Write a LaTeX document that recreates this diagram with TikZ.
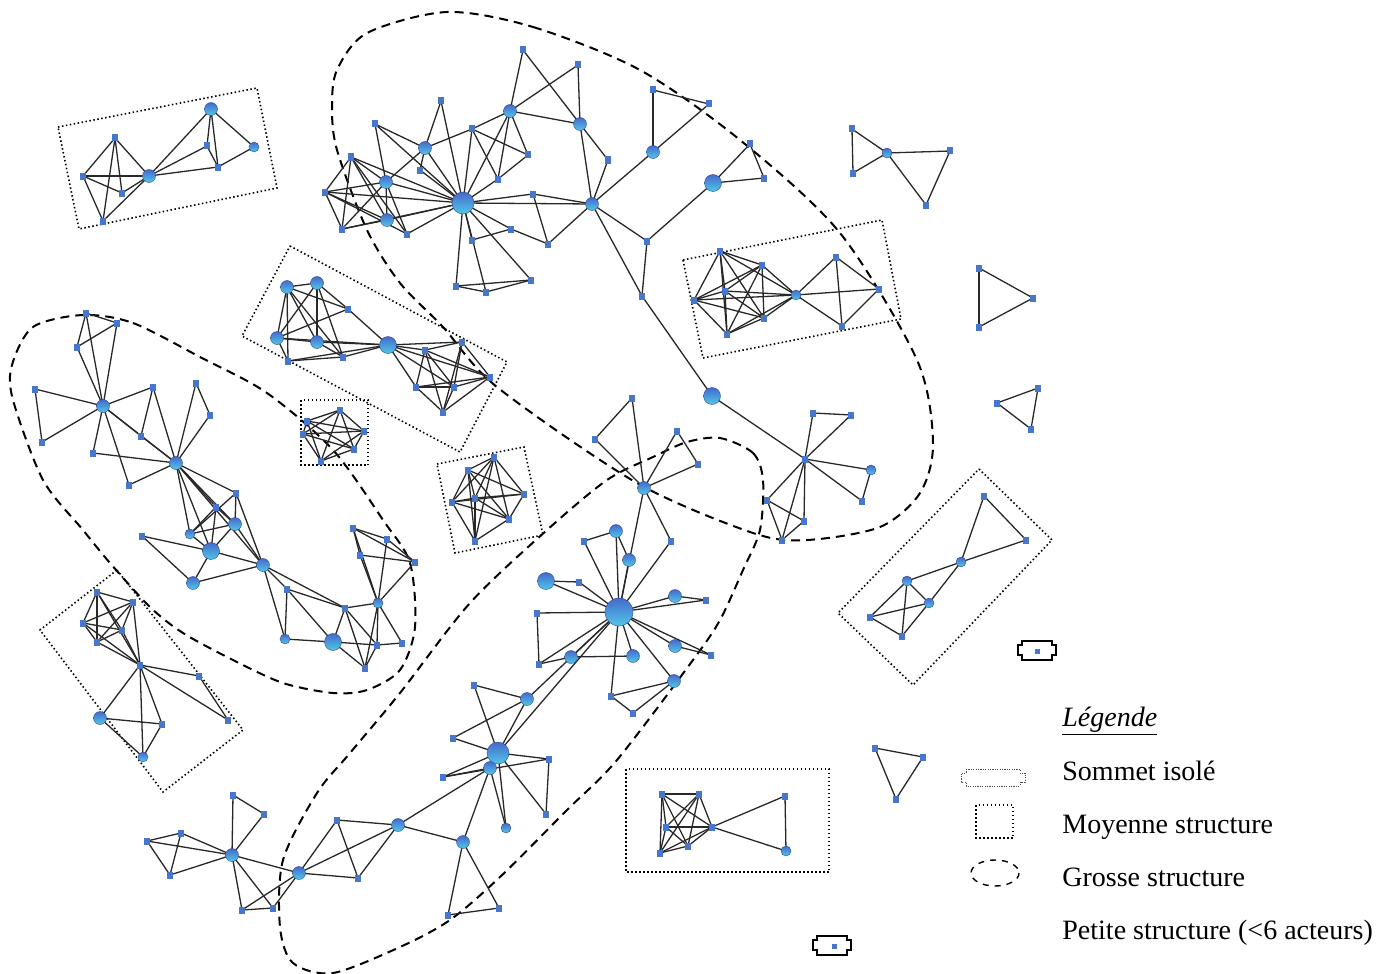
\documentclass[tikz,border=0pt]{standalone}
\usepackage{fontspec}
\setmainfont{Liberation Serif}
\pgfdeclarelayer{edgelayer}
\pgfsetlayers{edgelayer,main}
\definecolor{nodeblue}{RGB}{72,118,205}
\definecolor{balltop}{RGB}{70,105,205}
\definecolor{ballmid}{RGB}{75,130,220}
\definecolor{ballbot}{RGB}{80,200,230}
\definecolor{edgegray}{RGB}{40,40,40}
\begin{document}
\begin{tikzpicture}[x=0.5pt,y=-0.5pt,
 sn/.style={rectangle,fill=nodeblue,minimum width=3pt,minimum height=3.5pt,inner sep=0pt},
 mn/.style={circle,inner sep=0pt,minimum size=6.5pt,top color=balltop,middle color=ballmid,bottom color=ballbot,draw=balltop!70!black,line width=0.2pt},
 ms/.style={mn,minimum size=5pt},
 ln/.style={mn,minimum size=8.5pt},
 bn/.style={mn,minimum size=11pt},
 hn/.style={mn,minimum size=14pt},
 edge/.style={draw=edgegray,line width=0.65pt},
 grosse/.style={draw=black,line width=1pt,dash pattern=on 4.5pt off 3pt},
 moyenne/.style={draw=black,line width=0.8pt,dash pattern=on 0.75pt off 1.25pt},
 legtext/.style={anchor=base west,inner sep=0pt,font=\fontsize{14}{16}\selectfont},
 isoframe/.pic={\draw[line width=1pt] (-15,-9.5) -- (15,-9.5) -- (15,-5) -- (19,-5) -- (19,5) -- (15,5) -- (15,9.5) -- (-15,9.5) -- (-15,5) -- (-19,5) -- (-19,-5) -- (-15,-5) -- cycle;}
]
\useasboundingbox (0,0) rectangle (1392,974);
% ---------- A
\node[sn] (a1) at (115,138) {};
\node[sn] (a2) at (83,176) {};
\node[sn] (a3) at (122,193) {};
\node[sn] (a4) at (103,221) {};
\node[mn] (a5) at (149,176) {};
\node[mn] (a6) at (211,109) {};
\node[sn] (a7) at (207,146) {};
\node[sn] (a8) at (218,167) {};
\node[ms] (a9) at (254,147) {};
% ---------- B
\node[bn] (b1) at (463,203) {};
\node[sn] (b2) at (351,157) {};
\node[sn] (b3) at (325,192) {};
\node[sn] (b4) at (342,229) {};
\node[mn] (b5) at (386,182) {};
\node[mn] (b6) at (387,220) {};
\node[sn] (b7) at (407,234) {};
\node[sn] (b8) at (375,124) {};
\node[mn] (b9) at (425,148) {};
\node[sn] (b10) at (441,101) {};
\node[sn] (b11) at (420,170) {};
\node[sn] (b12) at (472,129) {};
\node[mn] (b13) at (510,111) {};
\node[sn] (b14) at (523,50) {};
\node[sn] (b15) at (578,65) {};
\node[mn] (b16) at (580,124) {};
\node[sn] (b17) at (528,155) {};
\node[sn] (b18) at (498,179) {};
\node[sn] (b19) at (608,160) {};
\node[mn] (b20) at (592,204) {};
\node[sn] (b21) at (533,194) {};
\node[sn] (b22) at (548,244) {};
\node[sn] (b23) at (511,229) {};
\node[sn] (b24) at (472,240) {};
\node[sn] (b25) at (456,286) {};
\node[sn] (b26) at (486,292) {};
\node[sn] (b27) at (531,280) {};
\node[mn] (b28) at (653,152) {};
\node[sn] (b29) at (653,90) {};
\node[sn] (b30) at (709,104) {};
\node[ln] (b31) at (713,183) {};
\node[sn] (b32) at (750,144) {};
\node[sn] (b33) at (764,178) {};
\node[sn] (b34) at (647,241) {};
\node[sn] (b35) at (642,296) {};
\node[ln] (b36) at (712,396) {};
% ---------- C
\node[sn] (c1) at (86,313) {};
\node[sn] (c2) at (117,323) {};
\node[sn] (c3) at (77,347) {};
\node[mn] (c4) at (103,406) {};
\node[sn] (c5) at (35,389) {};
\node[sn] (c6) at (42,442) {};
\node[sn] (c7) at (153,387) {};
\node[sn] (c8) at (141,436) {};
\node[sn] (c9) at (93,453) {};
\node[sn] (c10) at (129,485) {};
\node[mn] (c11) at (176,463) {};
\node[sn] (c12) at (196,383) {};
\node[sn] (c13) at (210,415) {};
\node[sn] (c14) at (236,493) {};
\node[sn] (c15) at (216,507) {};
\node[mn] (c16) at (235,524) {};
\node[ms] (c17) at (190,534) {};
\node[ln] (c18) at (211,551) {};
\node[sn] (c19) at (142,536) {};
\node[mn] (c20) at (193,583) {};
\node[mn] (c21) at (263,565) {};
\node[sn] (c22) at (287,589) {};
\node[sn] (c23) at (353,528) {};
\node[sn] (c24) at (387,539) {};
\node[sn] (c25) at (360,555) {};
\node[sn] (c26) at (415,562) {};
\node[ms] (c27) at (378,603) {};
\node[sn] (c28) at (345,608) {};
\node[ms] (c30) at (285,639) {};
\node[ln] (c31) at (333,642) {};
\node[sn] (c32) at (377,645) {};
\node[sn] (c33) at (402,643) {};
\node[sn] (c34) at (365,668) {};
% ---------- D
\node[mn] (d1) at (287,287) {};
\node[mn] (d2) at (317,283) {};
\node[sn] (d3) at (348,309) {};
\node[mn] (d4) at (277,338) {};
\node[mn] (d5) at (317,342) {};
\node[sn] (d6) at (288,361) {};
\node[sn] (d7) at (343,357) {};
\node[ln] (d8) at (388,345) {};
\node[sn] (d9) at (425,350) {};
\node[sn] (d10) at (462,342) {};
\node[sn] (d11) at (416,387) {};
\node[sn] (d12) at (454,387) {};
\node[sn] (d13) at (443,412) {};
\node[sn] (d14) at (490,377) {};
% ---------- E
\node[sn] (e1) at (340,410) {};
\node[sn] (e2) at (307,421) {};
\node[sn] (e3) at (364,431) {};
\node[sn] (e4) at (303,434) {};
\node[sn] (e5) at (354,449) {};
\node[sn] (e6) at (321,461) {};
% ---------- F
\node[sn] (f1) at (494,457) {};
\node[sn] (f2) at (468,470) {};
\node[sn] (f3) at (524,494) {};
\node[sn] (f4) at (475,498) {};
\node[sn] (f5) at (452,502) {};
\node[sn] (f6) at (509,519) {};
\node[sn] (f7) at (475,541) {};
% ---------- G
\node[mn] (g1) at (644,488) {};
\node[sn] (g2) at (632,398) {};
\node[sn] (g3) at (595,439) {};
\node[sn] (g4) at (677,431) {};
\node[sn] (g5) at (698,464) {};
\node[sn] (g6) at (671,541) {};
\node[mn] (g7) at (616,531) {};
\node[sn] (g8) at (584,541) {};
\node[mn] (g9) at (629,560) {};
\node[ln] (g10) at (546,581) {};
\node[sn] (g11) at (579,582) {};
\node[hn] (g12) at (619,612) {};
\node[mn] (g13) at (675,596) {};
\node[sn] (g14) at (706,600) {};
\node[sn] (g15) at (537,613) {};
\node[sn] (g16) at (539,664) {};
\node[mn] (g17) at (571,657) {};
\node[mn] (g18) at (633,656) {};
\node[mn] (g19) at (675,646) {};
\node[sn] (g20) at (711,655) {};
\node[mn] (g21) at (674,681) {};
\node[sn] (g22) at (611,696) {};
\node[sn] (g23) at (474,685) {};
\node[mn] (g24) at (527,699) {};
\node[sn] (g25) at (453,738) {};
\node[bn] (g26) at (498,753) {};
\node[mn] (g27) at (490,768) {};
\node[sn] (g28) at (549,759) {};
\node[sn] (g29) at (443,777) {};
\node[sn] (g30) at (546,814) {};
\node[ms] (g31) at (506,828) {};
\node[mn] (g32) at (463,842) {};
\node[sn] (g33) at (448,915) {};
\node[sn] (g34) at (499,908) {};
\node[mn] (g35) at (398,825) {};
\node[sn] (g37) at (633,713) {};
% ---------- H
\node[sn] (h1) at (233,795) {};
\node[sn] (h2) at (264,814) {};
\node[sn] (h3) at (147,841) {};
\node[sn] (h4) at (181,833) {};
\node[mn] (h5) at (232,855) {};
\node[sn] (h6) at (170,875) {};
\node[sn] (h7) at (242,910) {};
\node[sn] (h8) at (273,908) {};
\node[mn] (h9) at (299,873) {};
\node[sn] (h10) at (337,820) {};
\node[sn] (h11) at (358,878) {};
% ---------- I
\node[sn] (i1) at (805,459) {};
\node[sn] (i2) at (813,413) {};
\node[sn] (i3) at (851,415) {};
\node[ms] (i4) at (871,470) {};
\node[sn] (i5) at (862,501) {};
\node[sn] (i6) at (767,500) {};
\node[sn] (i7) at (804,521) {};
\node[sn] (i8) at (782,540) {};
% ---------- J
\node[sn] (j1) at (984,496) {};
\node[sn] (j2) at (1026,540) {};
\node[ms] (j3) at (961,562) {};
\node[ms] (j4) at (907,581) {};
\node[ms] (j5) at (929,603) {};
\node[sn] (j6) at (870,617) {};
\node[sn] (j7) at (902,636) {};
% ---------- K, triangles
\node[sn] (k1) at (852,129) {};
\node[sn] (k2) at (853,173) {};
\node[ms] (k3) at (887,153) {};
\node[sn] (k4) at (950,151) {};
\node[sn] (k5) at (926,205) {};
\node[sn] (k6) at (979,268) {};
\node[sn] (k7) at (1033,298) {};
\node[sn] (k8) at (979,327) {};
\node[sn] (t1) at (997,403) {};
\node[sn] (t2) at (1038,388) {};
\node[sn] (t3) at (1031,429) {};
\node[sn] (p1) at (875,748) {};
\node[sn] (p2) at (923,757) {};
\node[sn] (p3) at (896,799) {};
% ---------- L
\node[sn] (l1) at (720,251) {};
\node[sn] (l2) at (762,265) {};
\node[sn] (l3) at (725,291) {};
\node[sn] (l4) at (694,300) {};
\node[sn] (l5) at (764,318) {};
\node[sn] (l6) at (727,334) {};
\node[ms] (l7) at (796,295) {};
\node[sn] (l8) at (836,257) {};
\node[sn] (l9) at (879,289) {};
\node[sn] (l10) at (842,326) {};
% ---------- M
\node[sn] (m1) at (97,592) {};
\node[sn] (m2) at (133,602) {};
\node[sn] (m3) at (83,623) {};
\node[sn] (m4) at (122,630) {};
\node[sn] (m5) at (97,642) {};
\node[sn] (m6) at (140,665) {};
\node[sn] (m7) at (199,676) {};
\node[sn] (m8) at (228,720) {};
\node[mn] (m9) at (100,718) {};
\node[sn] (m10) at (162,724) {};
\node[ms] (m11) at (143,757) {};
% ---------- N
\node[sn] (n1) at (662,794) {};
\node[sn] (n2) at (699,794) {};
\node[sn] (n3) at (666,827) {};
\node[sn] (n4) at (712,827) {};
\node[sn] (n5) at (688,846) {};
\node[sn] (n6) at (660,853) {};
\node[sn] (n7) at (785,796) {};
\node[ms] (n8) at (786,851) {};
% ---------- isolated vertices
\node[sn,minimum width=2.5pt,minimum height=2.5pt] (q1) at (1037,651) {};
\node[sn,minimum width=2.5pt,minimum height=2.5pt] (q2) at (834,946) {};
\pic at (1037,650) {isoframe};
\pic at (832,945) {isoframe};
% ---------- legend
\node[legtext] (leg0) at (1062,726) {\underline{\textit{Légende}}};
\node[legtext] (leg1) at (1062,780) {Sommet isolé};
\node[legtext] (leg2) at (1062,833) {Moyenne structure};
\node[legtext] (leg3) at (1062,886) {Grosse structure};
\node[legtext] (leg4) at (1062,939) {Petite structure (<6 acteurs)};
\draw[line width=0.4pt,draw=black!70,dash pattern=on 0.6pt off 0.6pt] (966,769) -- (1020,769) -- (1020,773) -- (1025,773) -- (1025,782) -- (1020,782) -- (1020,786) -- (966,786) -- (966,782) -- (961,782) -- (961,773) -- (966,773) -- cycle;
\draw[moyenne,line width=0.6pt] (976,805) rectangle (1013,838);
\draw[draw=black,line width=0.7pt,dash pattern=on 3pt off 3pt] (995,873) ellipse [x radius=24,y radius=13];
% ---------- structures and edges
\begin{pgfonlayer}{edgelayer}
\draw[moyenne] (58,127) -- (257,88) -- (277,188) -- (79,229) -- cycle;
\draw[moyenne] (290,246) -- (507,362) -- (460,452) -- (242,336) -- cycle;
\draw[moyenne] (301,400) rectangle (368,465);
\draw[moyenne] (437,464) -- (524,447) -- (543,535) -- (455,553) -- cycle;
\draw[moyenne] (979,469) -- (1052,540) -- (913,685) -- (838,613) -- cycle;
\draw[moyenne] (683,260) -- (882,220) -- (901,319) -- (703,358) -- cycle;
\draw[moyenne] (117,570) -- (243,730) -- (163,792) -- (40,630) -- cycle;
\draw[moyenne] (626,769) rectangle (829,872);
\draw[grosse] plot[smooth cycle] coordinates {(447,12) (533,27) (640,70) (740,140) (840,233) (917,360) (933,443) (920,493) (880,527) (807,540) (753,533) (637,483) (497,387) (443,327) (400,283) (367,230) (337,150) (332,107) (337,70) (367,33)};
\draw[grosse] plot[smooth cycle] coordinates {(83,315) (133,323) (200,357) (267,393) (333,450) (383,520) (410,563) (415,627) (400,670) (367,690) (333,693) (283,683) (233,660) (183,633) (150,607) (110,563) (83,530) (43,480) (13,400) (12,365) (33,327)};
\draw[grosse] plot[smooth cycle] coordinates {(720,438) (753,453) (763,480) (760,530) (743,570) (720,620) (693,660) (617,760) (567,810) (500,877) (450,920) (400,947) (333,973) (293,963) (280,927) (283,860) (317,793) (350,753) (400,693) (470,603) (547,530) (607,480) (653,457) (687,442)};
\foreach \u/\v in {a1/a2,a1/a3,a1/a4,a1/a5,a2/a3,a2/a4,a2/a5,a3/a5,a4/a5,a5/a6,a5/a7,a5/a8,a6/a7,a6/a8,a6/a9,a7/a8,a8/a9,
 b2/b3,b2/b4,b2/b5,b2/b6,b2/b1,b2/b7,b3/b4,b3/b5,b3/b6,b3/b1,b3/b7,b4/b5,b4/b6,b5/b6,b5/b1,b5/b7,b6/b1,b7/b1,b4/b1,
 b8/b1,b8/b9,b8/b5,b11/b1,b11/b9,b9/b10,b9/b5,b9/b12,b9/b1,b10/b1,b12/b1,b12/b17,b12/b18,b12/b13,b13/b1,b13/b18,b13/b17,
 b13/b14,b13/b15,b13/b16,b17/b18,b18/b1,b14/b16,b15/b16,b16/b19,b19/b20,b16/b20,b1/b21,b21/b22,b1/b20,b21/b20,b22/b20,
 b1/b23,b23/b22,b1/b24,b24/b23,b1/b25,b1/b26,b1/b27,b25/b26,b26/b27,b25/b27,b20/b28,b28/b29,b28/b30,b29/b30,b20/b34,
 b34/b31,b31/b32,b31/b33,b32/b33,b20/b35,b34/b35,b35/b36,b36/i1,
 c1/c2,c1/c3,c2/c3,c1/c4,c2/c4,c3/c4,c4/c5,c5/c6,c6/c4,c4/c7,c7/c8,c4/c8,c8/c11,c7/c11,c4/c11,c4/c9,c9/c11,c4/c10,c10/c11,
 c11/c12,c12/c13,c13/c11,c11/c14,c11/c15,c11/c16,c11/c17,c11/c18,c11/c21,c14/c16,c14/c17,c14/c21,c15/c16,c15/c17,c15/c18,
 c16/c17,c16/c18,c16/c21,c17/c18,c18/c21,c19/c18,c19/c20,c18/c20,c20/c21,c21/c22,c21/c28,c21/c30,c22/c30,c22/c31,c22/c28,
 c28/c31,c28/c27,c28/c32,c28/c34,c27/c32,c27/c33,c27/c34,c31/c32,c32/c33,c32/c34,c30/c31,c31/c34,c23/c24,c23/c25,c23/c27,
 c24/c26,c25/c26,c24/c27,c25/c27,c26/c27,c23/c26,
 d1/d2,d1/d4,d1/d5,d1/d6,d1/d3,d1/d7,d2/d4,d2/d5,d2/d3,d2/d7,d3/d8,d3/d4,d4/d5,d4/d6,d4/d8,d5/d8,d5/d7,d6/d7,d6/d8,d7/d8,
 d8/d9,d8/d10,d8/d11,d8/d12,d8/d14,d9/d10,d9/d11,d9/d12,d9/d13,d9/d14,d10/d12,d10/d14,d11/d12,d11/d13,d12/d13,d12/d14,
 d13/d14,d10/d13,d11/d14,
 e1/e2,e1/e3,e1/e4,e1/e5,e1/e6,e2/e3,e2/e4,e2/e5,e2/e6,e3/e4,e3/e5,e3/e6,e4/e5,e4/e6,e5/e6,
 f1/f2,f1/f3,f1/f4,f1/f5,f1/f6,f1/f7,f2/f3,f2/f4,f2/f5,f2/f6,f2/f7,f3/f4,f3/f5,f3/f6,f4/f5,f4/f6,f4/f7,f5/f6,f5/f7,f6/f7,
 g1/g2,g1/g3,g2/g3,g1/g4,g1/g5,g4/g5,g1/g6,g6/g12,g1/g12,g7/g8,g8/g12,g7/g9,g7/g12,g9/g12,g10/g11,g10/g12,g11/g12,g12/g13,
 g13/g14,g12/g14,g12/g15,g15/g16,g16/g12,g16/g17,g17/g18,g17/g12,g18/g12,g12/g19,g19/g20,g12/g20,g12/g21,g12/g22,g22/g21,
 g21/g37,g22/g37,g12/g24,g12/g26,g23/g24,g23/g26,g24/g26,g24/g25,g25/g26,g26/g28,g26/g29,g27/g29,g29/g28,g28/g30,g26/g30,
 g26/g31,g27/g31,g27/g32,g32/g35,g32/g33,g32/g34,g33/g34,g27/g35,
 h1/h2,h1/h5,h2/h5,h3/h4,h3/h5,h3/h6,h4/h5,h4/h6,h6/h5,h5/h7,h5/h8,h7/h8,h5/h9,h7/h9,h8/h9,h9/h10,h9/g35,h9/h11,h10/h11,
 h10/g35,h11/g35,
 i1/i2,i2/i3,i3/i1,i1/i4,i4/i5,i1/i5,i1/i6,i1/i7,i1/i8,i6/i7,i6/i8,i7/i8,
 j1/j3,j1/j2,j2/j3,j3/j4,j3/j5,j4/j5,j4/j6,j4/j7,j5/j6,j5/j7,j6/j7,
 k1/k2,k1/k3,k2/k3,k3/k4,k3/k5,k4/k5,k6/k7,k7/k8,k8/k6,t1/t2,t2/t3,t3/t1,p1/p2,p2/p3,p3/p1,
 l1/l2,l1/l3,l1/l4,l1/l5,l1/l6,l2/l3,l2/l4,l2/l5,l2/l6,l3/l4,l3/l5,l3/l6,l4/l5,l4/l6,l5/l6,l1/l7,l2/l7,l3/l7,l4/l7,l5/l7,
 l6/l7,l7/l8,l7/l9,l7/l10,l8/l9,l8/l10,l9/l10,
 m1/m2,m1/m3,m1/m4,m1/m5,m1/m6,m2/m3,m2/m4,m2/m5,m2/m6,m3/m4,m3/m5,m4/m5,m4/m6,m5/m6,m3/m6,m6/m7,m6/m8,m7/m8,m6/m9,
 m6/m10,m6/m11,m9/m10,m9/m11,m10/m11,
 n1/n2,n1/n3,n1/n4,n1/n5,n1/n6,n2/n3,n2/n4,n2/n5,n2/n6,n3/n4,n3/n5,n3/n6,n4/n5,n4/n6,n5/n6,n4/n7,n4/n8,n7/n8}
 \draw[edge] (\u.center) -- (\v.center);
\end{pgfonlayer}
\end{tikzpicture}
\end{document}
